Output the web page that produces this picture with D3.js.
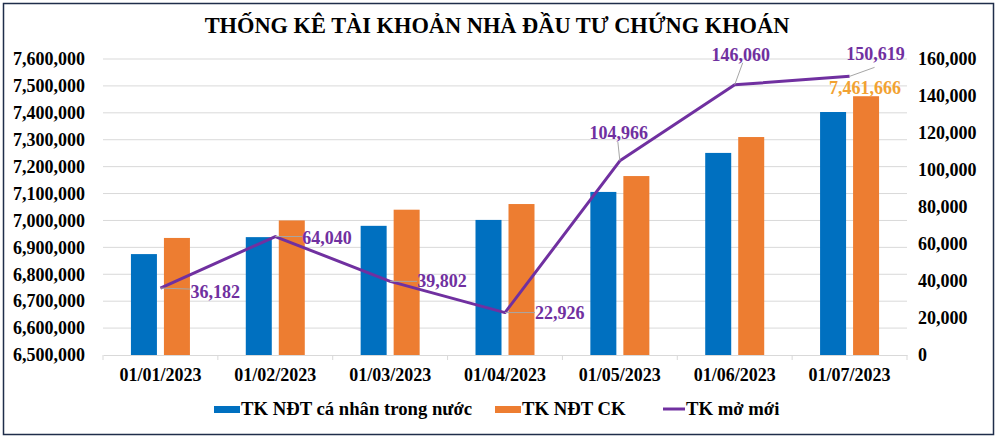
<!DOCTYPE html>
<html>
<head>
<meta charset="utf-8">
<script src="https://cdn.jsdelivr.net/npm/d3@7"></script>
<style>
  body { margin: 0; background: #fff; }
</style>
</head>
<body>
<div id="chart"></div>
<script>
// data
const categories = ["01/01/2023", "01/02/2023", "01/03/2023", "01/04/2023", "01/05/2023", "01/06/2023", "01/07/2023"];
const domesticVals = [6875000, 6938000, 6980000, 7002000, 7106000, 7251000, 7403000];
const totalVals = [6935000, 7000000, 7040000, 7061000, 7165000, 7310000, 7461666];
const newVals = [36182, 64040, 39802, 22926, 104966, 146060, 150619];
const leftTicks = [6500000, 6600000, 6700000, 6800000, 6900000, 7000000, 7100000, 7200000, 7300000, 7400000, 7500000, 7600000];
const rightTicks = [0, 20000, 40000, 60000, 80000, 100000, 120000, 140000, 160000];
const seriesNames = ["TK NĐT cá nhân trong nước", "TK NĐT CK", "TK mở mới"];

const width = 997, height = 438;
const margin = { top: 59, right: 90, bottom: 83, left: 103 };
const colors = { blue: "#0070C0", orange: "#ED7D31", purple: "#7030A0", orangeLabel: "#F2A232" };
const FONT = "Liberation Serif";

const svg = d3.select("#chart").append("svg")
    .attr("width", width)
    .attr("height", height);

// outer border
svg.append("rect")
    .attr("x", 3.5).attr("y", 3.5)
    .attr("width", width - 7).attr("height", height - 7)
    .style("fill", "#fff")
    .style("stroke", "#1F2D4A")
    .style("stroke-width", 1.5);

svg.append("text")
    .attr("x", 497)
    .attr("y", 33)
    .attr("text-anchor", "middle")
    .style("font-size", "22.4px")
    .text("THỐNG KÊ TÀI KHOẢN NHÀ ĐẦU TƯ CHỨNG KHOÁN");

const x = d3.scaleBand().domain(categories)
    .range([margin.left, width - margin.right]).padding(0);
const yL = d3.scaleLinear().domain([6500000, 7600000])
    .range([height - margin.bottom, margin.top]);
const yR = d3.scaleLinear().domain([0, 160000])
    .range([height - margin.bottom, margin.top]);

const fmt = d3.format(",");

// gridlines
svg.append("g")
    .selectAll("line")
    .data(leftTicks.slice(1))
    .enter().append("line")
    .attr("x1", margin.left).attr("x2", width - margin.right)
    .attr("y1", d => yL(d)).attr("y2", d => yL(d))
    .style("stroke", "#D9D9D9").style("stroke-width", 1);

// left axis
const leftAxis = svg.append("g")
    .attr("transform", "translate(" + 85 + ",0)")
    .call(d3.axisLeft(yL).tickValues(leftTicks).tickFormat(fmt).tickSize(0).tickPadding(0));
leftAxis.select(".domain").remove();
leftAxis.selectAll("text").style("font-size", "18px").style("fill", "#000");

// right axis
const rightAxis = svg.append("g")
    .attr("transform", "translate(" + 918 + ",0)")
    .call(d3.axisRight(yR).tickValues(rightTicks).tickFormat(fmt).tickSize(0).tickPadding(0));
rightAxis.select(".domain").remove();
rightAxis.selectAll("text").style("font-size", "18px").style("fill", "#000");

// bars
const barW = 26, barGap = 7;
const groups = [
    { vals: domesticVals, color: colors.blue, off: -barGap / 2 - barW },
    { vals: totalVals, color: colors.orange, off: barGap / 2 }
];
groups.forEach(g => {
    svg.append("g")
        .selectAll("rect")
        .data(g.vals)
        .enter().append("rect")
        .attr("x", (d, i) => x(categories[i]) + x.bandwidth() / 2 + g.off)
        .attr("y", d => yL(d))
        .attr("width", barW)
        .attr("height", d => yL(6500000) - yL(d))
        .style("fill", g.color);
});

// bottom axis
const bottomAxis = svg.append("g")
    .attr("transform", "translate(0," + (height - margin.bottom) + ")")
    .call(d3.axisBottom(x).tickSize(0).tickPadding(13));
bottomAxis.select(".domain").style("stroke", "#D9D9D9");
bottomAxis.selectAll("text").style("font-size", "18px").style("fill", "#000");
bottomAxis.selectAll(".bound")
    .data(d3.range(categories.length + 1))
    .enter().append("line")
    .attr("class", "bound")
    .attr("x1", i => margin.left + i * x.bandwidth())
    .attr("x2", i => margin.left + i * x.bandwidth())
    .attr("y1", 0).attr("y2", 5)
    .style("stroke", "#D9D9D9");

// line
const cx = i => x(categories[i]) + x.bandwidth() / 2;
const line = d3.line()
    .x((d, i) => cx(i))
    .y(d => yR(d));
svg.append("path")
    .datum(newVals)
    .attr("d", line)
    .style("fill", "none")
    .style("stroke", colors.purple)
    .style("stroke-width", 3)
    .style("stroke-linejoin", "round");

// data labels of the line: offset of label anchor (dx, dy) and leader end
const labelPos = [
    { dx: 30, dy: 10, anchor: "start", lx: 30, ly: 1 },
    { dx: 27, dy: 7, anchor: "start", lx: 27, ly: 0 },
    { dx: 27, dy: 6, anchor: "start", lx: 27, ly: 0 },
    { dx: 30, dy: 6, anchor: "start", lx: 30, ly: 0 },
    { dx: -1, dy: -22, anchor: "middle", lx: -2, ly: -19 },
    { dx: 6, dy: -24, anchor: "middle", lx: 8, ly: -22 },
    { dx: 26, dy: -16, anchor: "middle", lx: 25, ly: -9 }
];
const lab = svg.append("g");
newVals.forEach((v, i) => {
    const p = labelPos[i];
    const px = cx(i), py = yR(v);
    lab.append("line")
        .attr("x1", px).attr("y1", py)
        .attr("x2", px + p.lx).attr("y2", py + p.ly)
        .style("stroke", "#A6A6A6").style("stroke-width", 1);
    lab.append("text")
        .attr("x", px + p.dx)
        .attr("y", py + p.dy)
        .attr("text-anchor", p.anchor)
        .style("font-size", "18px")
        .style("fill", colors.purple)
        .text(fmt(v));
});

// label for last orange bar
const last = totalVals.length - 1;
svg.append("text")
    .attr("x", cx(last) + barGap / 2 + barW / 2 - 1)
    .attr("y", yL(totalVals[last]) - 2)
    .attr("text-anchor", "middle")
    .style("font-size", "18px")
    .style("fill", colors.orangeLabel)
    .text(fmt(totalVals[last]));

// legend
const legend = svg.append("g").attr("transform", "translate(0,409)");
legend.append("rect").attr("x", 214).attr("y", -3).attr("width", 26).attr("height", 7).style("fill", colors.blue);
legend.append("text").attr("x", 241).attr("y", 6).style("font-size", "18.7px").text(seriesNames[0]);
legend.append("rect").attr("x", 495).attr("y", -3).attr("width", 26).attr("height", 7).style("fill", colors.orange);
legend.append("text").attr("x", 522).attr("y", 6).style("font-size", "18.7px").text(seriesNames[1]);
legend.append("line").attr("x1", 663).attr("x2", 685).attr("y1", 0).attr("y2", 0)
    .style("stroke", colors.purple).style("stroke-width", 3);
legend.append("text").attr("x", 686).attr("y", 6).style("font-size", "18.7px").text(seriesNames[2]);

// serif bold on every text
svg.selectAll("text")
    .style("font-family", FONT)
    .style("font-weight", "bold");
</script>
</body>
</html>
